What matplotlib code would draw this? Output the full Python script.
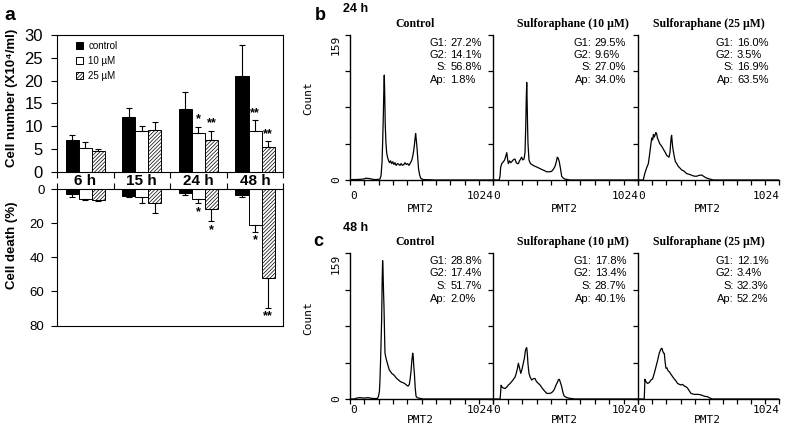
import numpy as np
import matplotlib
matplotlib.use('Agg')
import matplotlib.pyplot as plt

# ---- panel a: cell number / cell death bars ----
times = ['6 h', '15 h', '24 h', '48 h']
series = ['control', '10 µM', '25 µM']

num_control = [7.0, 11.9, 13.8, 21.1]
num_control_err = [1.1, 2.0, 3.7, 6.6]
num_10 = [5.2, 9.0, 8.5, 8.9]
num_10_err = [1.4, 1.1, 1.3, 2.4]
num_25 = [4.6, 9.2, 7.0, 5.4]
num_25_err = [0.4, 1.8, 2.0, 1.3]
num_stars_10 = ['', '', '*', '**']
num_stars_25 = ['', '', '**', '**']

death_control = [3.1, 4.1, 2.5, 3.6]
death_control_err = [1.8, 0.4, 1.0, 1.2]
death_10 = [6.0, 4.5, 5.9, 21.2]
death_10_err = [0.4, 3.9, 2.5, 3.9]
death_25 = [6.2, 8.4, 11.9, 52.4]
death_25_err = [0.6, 5.8, 6.8, 17.2]
death_stars_10 = ['', '', '*', '*']
death_stars_25 = ['', '', '*', '**']

# ---- panels b/c: DNA histograms (channel, count) ----
b_ctrl_ch = [0, 40, 80, 102, 112, 125, 143, 165, 190, 214, 222, 229, 234, 238, 242, 245, 248, 252, 257, 262,
             268, 274, 282, 290, 298, 306, 314, 321, 330, 340, 350, 357, 365, 375, 385, 393, 402, 412, 422, 429,
             436, 442, 448, 454, 460, 465, 469, 473, 479, 485, 490, 497, 505, 515, 524, 545, 571, 600, 1024]
b_ctrl_cnt = [0.5, 0.5, 0.8, 1.2, 2.0, 1.8, 1.5, 0.6, 0.5, 1.0, 5, 20, 45, 70, 100, 115, 95, 60, 40, 30,
              25, 22, 19, 21, 18, 20, 17, 19, 16, 18, 17, 16, 18, 16, 17, 19, 17, 18, 16, 18,
              20, 22, 26, 31, 38, 46, 51, 45, 35, 22, 12, 6, 2, 1, 0.5, 0.3, 0.3, 0, 0]
b_10_ch = [0, 42, 48, 52, 60, 71, 80, 88, 95, 100, 106, 115, 122, 130, 140, 153, 162, 170, 177, 185,
           193, 200, 208, 217, 224, 229, 233, 236, 239, 242, 245, 252, 262, 272, 282, 295, 310, 330, 350, 365,
           377, 395, 412, 425, 436, 445, 452, 458, 466, 475, 483, 495, 506, 525, 541, 1024]
b_10_cnt = [0, 0, 5, 14, 18, 20, 22, 26, 30, 24, 18, 21, 19, 20, 22, 23, 19, 18, 18, 21,
            23, 25, 22, 23, 30, 58, 90, 107, 85, 60, 40, 22, 18, 17, 16, 15, 14, 12.5, 11, 10,
            9, 9, 9.5, 12, 15, 20, 25, 24, 20, 12, 4, 2, 1, 0.5, 0, 0]
b_25_ch = [0, 36, 42, 49, 60, 73, 82, 92, 98, 104, 110, 116, 121, 127, 133, 139, 145, 155, 170, 185,
           197, 206, 215, 223, 230, 235, 239, 242, 246, 250, 254, 262, 270, 279, 290, 303, 315, 330, 351, 375,
           399, 420, 440, 460, 480, 497, 520, 545, 1024]
b_25_cnt = [0, 0, 4, 8, 13, 18, 28, 40, 46, 44, 50, 47, 49, 52, 51, 46, 44, 40, 37, 33,
            30, 27, 26, 25, 30, 40, 47, 49, 42, 36, 32, 25, 20, 18, 15, 13, 11, 10, 7, 6,
            4.5, 4, 5, 5.5, 3.5, 2, 1, 0, 0]
c_ctrl_ch = [0, 30, 48, 70, 100, 130, 143, 170, 195, 203, 210, 214, 220, 226, 230, 233, 236, 240, 243, 247,
             250, 258, 267, 280, 298, 315, 330, 345, 360, 375, 390, 405, 415, 424, 429, 436, 442, 448, 452, 456,
             460, 466, 472, 480, 490, 500, 524, 1024]
c_ctrl_cnt = [0, 0, 1, 1.5, 1, 1.5, 1, 0.5, 0.5, 2.5, 8, 20, 50, 86, 130, 151, 140, 115, 100, 70,
              50, 44, 39, 32, 28, 26, 23, 21, 19, 18, 17, 15, 14, 16, 21, 30, 42, 50, 46, 35,
              28, 12, 3, 1.5, 1, 0.7, 0, 0]
c_10_ch = [0, 48, 52, 55, 62, 70, 83, 95, 105, 119, 130, 140, 154, 162, 170, 177, 185, 194, 202, 212,
           220, 226, 231, 236, 240, 245, 252, 260, 271, 282, 294, 305, 318, 330, 345, 360, 377, 395, 412, 425,
           435, 443, 452, 460, 466, 472, 483, 492, 500, 520, 541, 576, 1024]
c_10_cnt = [0, 0, 8, 15, 13, 12, 11.5, 13, 15, 17, 19, 21, 24, 28, 33, 39, 34, 28, 32, 39,
            45, 52, 55, 56, 50, 38, 28, 24, 20.7, 22, 22.5, 19, 17, 15.3, 12, 9, 6.2, 6, 6.9, 9,
            12, 15.3, 18, 21, 21.5, 19, 13.5, 7, 3.3, 1.5, 0.7, 0, 0]
c_25_ch = [0, 43, 46, 48, 55, 67, 80, 92, 104, 116, 128, 140, 152, 160, 166, 172, 178, 184, 189, 195,
           201, 208, 215, 225, 237, 249, 260, 272, 285, 298, 310, 321, 335, 345, 357, 370, 382, 394, 410, 430,
           455, 480, 503, 520, 539, 1024]
c_25_cnt = [0, 0, 12, 21.5, 19, 17, 18, 20.7, 22, 28, 35, 42, 50, 53, 55, 55.3, 52, 50, 49.8, 40,
            33.5, 34, 31, 29.8, 27, 24.4, 22, 20, 17, 16, 15.3, 16, 14, 13.5, 12, 9, 6.2, 5.5, 5, 5.1,
            4.5, 3, 2.5, 1, 0, 0]

hist_titles = ['Control', 'Sulforaphane (10 µM)', 'Sulforaphane (25 µM)']
stat_names = ['G1:', 'G2:', 'S:', 'Ap:']
b_stats = [['27.2%', '14.1%', '56.8%', '1.8%'],
           ['29.5%', '9.6%', '27.0%', '34.0%'],
           ['16.0%', '3.5%', '16.9%', '63.5%']]
c_stats = [['28.8%', '17.4%', '51.7%', '2.0%'],
           ['17.8%', '13.4%', '28.7%', '40.1%'],
           ['12.1%', '3.4%', '32.3%', '52.2%']]

W, H = 785, 434
plt.rcParams['font.family'] = ['Liberation Sans', 'DejaVu Sans']
plt.rcParams['hatch.linewidth'] = 0.5
fig = plt.figure(figsize=(W / 100, H / 100), dpi=100)


def px_axes(x0, y0, x1, y1):
    return fig.add_axes([x0 / W, 1 - y1 / H, (x1 - x0) / W, (y1 - y0) / H])


ax_top = px_axes(57, 35, 283.3, 171.7)
ax_bot = px_axes(57, 189, 283.3, 325.5)

x = np.arange(len(times))
w = 0.23
styles = [dict(color='black'), dict(color='white'), dict(color='white', hatch='/////////')]

top_sets = [(num_control, num_control_err, None), (num_10, num_10_err, num_stars_10),
            (num_25, num_25_err, num_stars_25)]
bot_sets = [(death_control, death_control_err, None), (death_10, death_10_err, death_stars_10),
            (death_25, death_25_err, death_stars_25)]

handles = []
for ax, sets in [(ax_top, top_sets), (ax_bot, bot_sets)]:
    for i, (vals, err, stars) in enumerate(sets):
        pos = x + (i - 1) * w
        b = ax.bar(pos, vals, w, edgecolor='black', linewidth=0.7, label=series[i], **styles[i])
        ax.errorbar(pos, vals, yerr=[np.zeros(len(vals)), err], fmt='none', ecolor='black',
                    elinewidth=0.8, capsize=2.5, capthick=0.8)
        if ax is ax_top:
            handles.append(b)
        if stars:
            for p, v, e, s in zip(pos, vals, err, stars):
                if not s:
                    continue
                if ax is ax_top:
                    ax.annotate(s, (p, v + e), xytext=(0, 1), textcoords='offset points',
                                ha='center', va='bottom', fontsize=9, fontweight='bold')
                else:
                    ax.annotate(s, (p, v + e), xytext=(0, -2), textcoords='offset points',
                                ha='center', va='top', fontsize=9, fontweight='bold')
    ax.set_xlim(-0.5, len(times) - 0.5)
    ax.set_xticks(np.arange(len(times) + 1) - 0.5)
    ax.set_xticklabels([])
    for sp in ax.spines.values():
        sp.set_linewidth(0.8)

ax_top.set_ylim(0, 30)
ax_top.set_yticks([0, 5, 10, 15, 20, 25, 30])
ax_top.tick_params(axis='y', labelsize=12, length=4, width=0.8, pad=6)
ax_top.tick_params(axis='x', length=4, width=0.8, direction='out')

ax_bot.set_ylim(80, 0)
ax_bot.set_yticks([0, 20, 40, 60, 80])
ax_bot.tick_params(axis='y', labelsize=9.5, length=4, width=0.8, pad=5)
ax_bot.xaxis.tick_top()
ax_bot.tick_params(axis='x', length=4, width=0.8, direction='out')
for i, t in enumerate(times):
    ax_bot.text(i, 1.062, t, transform=ax_bot.get_xaxis_transform(), ha='center', va='center',
                fontsize=11, fontweight='bold')

ax_top.legend(handles=handles, loc='upper left', bbox_to_anchor=(0.084, 0.955), frameon=False,
              fontsize=7, handlelength=0.75, handleheight=0.75, handletextpad=0.5,
              labelspacing=0.5, borderaxespad=0, borderpad=0)

fig.text(12 / W, 1 - 97.5 / H, 'Cell number (X10⁴/ml)', rotation=90, ha='center', va='center',
         fontsize=9.5, fontweight='bold')
fig.text(12 / W, 1 - 245 / H, 'Cell death (%)', rotation=90, ha='center', va='center',
         fontsize=9.5, fontweight='bold')
fig.text(10 / W, 1 - 15 / H, 'a', ha='center', va='center', fontsize=14, fontweight='bold')

# ---- histograms ----
mono = 'DejaVu Sans Mono'
cols = [(350, 493.3), (493.3, 638.3), (638.3, 779.3)]
title_x = [0.455, 0.55, 0.5]
rows = [
    dict(y0=35, y1=180, data=[(b_ctrl_ch, b_ctrl_cnt), (b_10_ch, b_10_cnt), (b_25_ch, b_25_cnt)],
         stats=b_stats, pad=4.5, pmt=-0.166, count_y=0.566),
    dict(y0=253.3, y1=399, data=[(c_ctrl_ch, c_ctrl_cnt), (c_10_ch, c_10_cnt), (c_25_ch, c_25_cnt)],
         stats=c_stats, pad=0.5, pmt=-0.11, count_y=0.556),
]
for row in rows:
    hpx = row['y1'] - row['y0']
    for j, (x0, x1) in enumerate(cols):
        ax = px_axes(x0, row['y0'], x1, row['y1'])
        ch, cnt = row['data'][j]
        ax.plot(ch, cnt, color='black', linewidth=0.9)
        ax.set_xlim(0, 1024)
        ax.set_ylim(0, 159)
        for s in ['top', 'right']:
            ax.spines[s].set_visible(False)
        for s in ['left', 'bottom']:
            ax.spines[s].set_linewidth(1.0)
        xt = np.linspace(0, 1024, 11)
        ax.set_xticks(xt)
        ax.set_xticklabels(['0'] + [''] * 9 + ['1024'], fontfamily=mono, fontsize=8)
        lbls = ax.get_xticklabels()
        lbls[0].set_ha('left')
        lbls[-1].set_ha('right')
        ax.tick_params(axis='x', length=3.5, width=0.9, pad=row['pad'])
        ax.set_yticks(np.linspace(0, 159, 5))
        if j == 0:
            ax.set_yticklabels(['0', '', '', '', '159'], fontfamily=mono, fontsize=8, rotation=90)
            ylb = ax.get_yticklabels()
            ylb[0].set_va('center')
            ylb[-1].set_va('top')
            ax.set_ylabel('Count', fontfamily=mono, fontsize=8)
            ax.yaxis.set_label_coords(-(350 - 313) / (x1 - x0), row['count_y'])
        else:
            ax.set_yticklabels([])
        ax.tick_params(axis='y', length=3.5, width=0.9, pad=3)
        ax.set_xlabel('PMT2', fontfamily=mono, fontsize=8)
        ax.xaxis.set_label_coords(0.49, row['pmt'])
        ax.text(title_x[j], 1 + 11 / hpx, hist_titles[j], transform=ax.transAxes, ha='center',
                va='center', fontsize=8.5, fontweight='bold', family='Liberation Serif')
        ys = [0.945, 0.865, 0.777, 0.688]
        for k in range(4):
            ax.text(0.677, ys[k], stat_names[k], transform=ax.transAxes, ha='right', va='center',
                    fontsize=8)
            ax.text(0.70, ys[k], row['stats'][j][k], transform=ax.transAxes, ha='left', va='center',
                    fontsize=8)

fig.text(320 / W, 1 - 15.5 / H, 'b', ha='center', va='center', fontsize=13, fontweight='bold')
fig.text(356 / W, 1 - 8.7 / H, '24 h', ha='center', va='center', fontsize=9, fontweight='bold')
fig.text(318 / W, 1 - 241 / H, 'c', ha='center', va='center', fontsize=13, fontweight='bold')
fig.text(356 / W, 1 - 228 / H, '48 h', ha='center', va='center', fontsize=9, fontweight='bold')

fig.savefig('out.png', dpi=100)
